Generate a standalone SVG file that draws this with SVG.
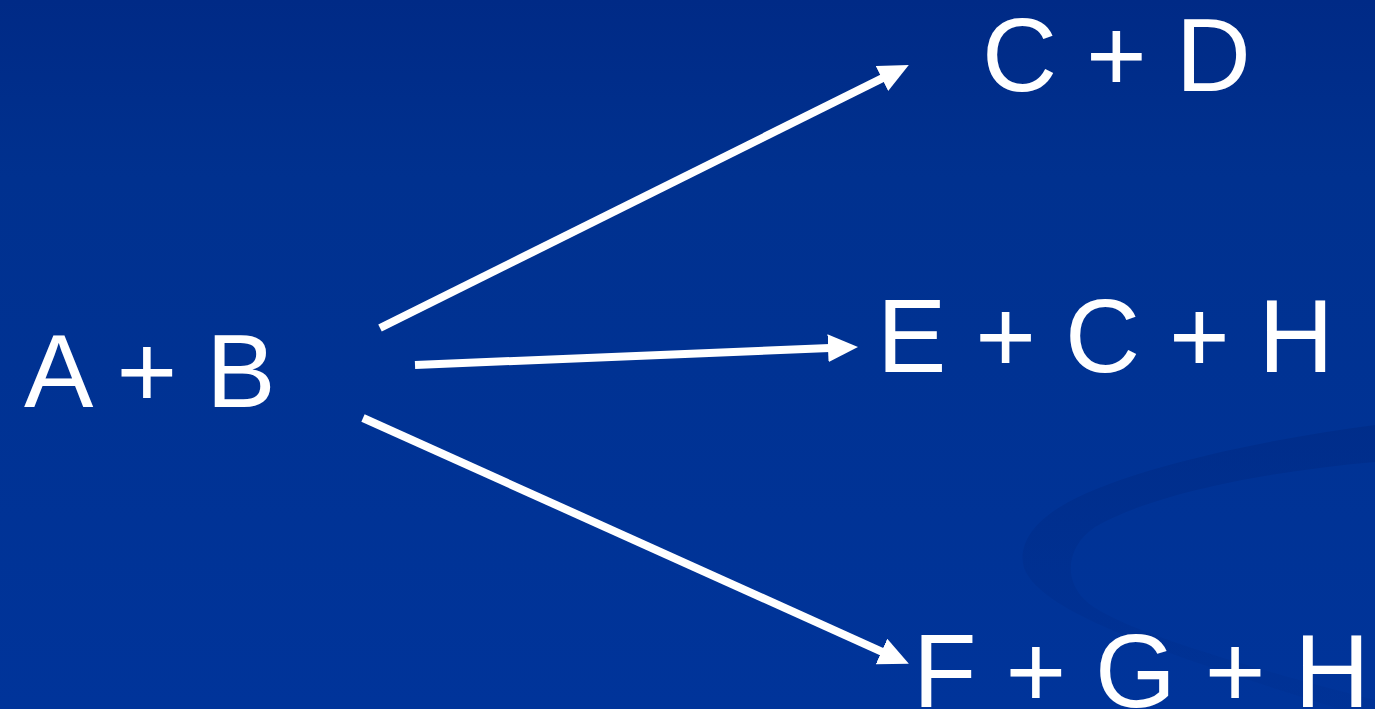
<svg xmlns="http://www.w3.org/2000/svg" width="1375" height="709" viewBox="0 0 1375 709">
  <defs>
    <linearGradient id="bg" x1="0" y1="0" x2="0" y2="1">
      <stop offset="0" stop-color="#002A86"/>
      <stop offset="0.25" stop-color="#00318F"/>
      <stop offset="1" stop-color="#00349A"/>
    </linearGradient>
    <linearGradient id="sw" x1="0" y1="0" x2="0" y2="1">
      <stop offset="0" stop-color="#002A84" stop-opacity="0.6"/>
      <stop offset="0.6" stop-color="#002C8A" stop-opacity="0.4"/>
      <stop offset="1" stop-color="#002C8A" stop-opacity="0.2"/>
    </linearGradient>
    <marker id="ah" markerUnits="userSpaceOnUse" viewBox="0 0 30 28" markerWidth="30" markerHeight="28" refX="8" refY="14" orient="auto">
      <path d="M0,0 L30,14 L0,28 Z" fill="#FFFFFF"/>
    </marker>
    <style>
      .lbl { font-family: "Liberation Sans", Arial, sans-serif; font-size: 104px; fill: #FFFFFF; }
      .conn { stroke: #FFFFFF; stroke-width: 8; fill: none; marker-end: url(#ah); }
    </style>
  </defs>
  <rect x="0" y="0" width="1375" height="709" fill="url(#bg)"/>
  <path d="M1375,425 C1260,440 1120,470 1060,507 C1030,525 1018,548 1024,568 C1040,610 1150,650 1340,709 L1375,709 L1375,700 C1220,660 1110,625 1085,600 C1062,578 1068,545 1095,527 C1150,495 1260,472 1375,462 Z" fill="url(#sw)"/>
  <g id="connectors">
    <line class="conn" x1="380" y1="328" x2="889.1" y2="74.9"/>
    <line class="conn" x1="415" y1="365" x2="836" y2="347.8"/>
    <line class="conn" x1="363" y1="418" x2="888.8" y2="654.8"/>
  </g>
  <g id="node-ab"><text class="lbl" x="24" y="407">A + B</text></g>
  <g id="node-cd"><text class="lbl" x="982" y="91">C + D</text></g>
  <g id="node-ech"><text class="lbl" x="877" y="372">E + C + H</text></g>
  <g id="node-fgh"><text class="lbl" x="913" y="707">F + G + H</text></g>
</svg>
